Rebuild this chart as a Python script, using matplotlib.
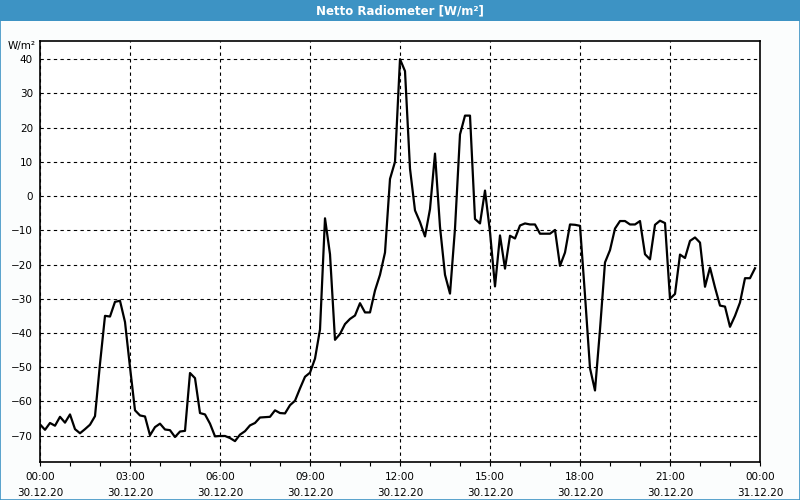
import matplotlib
matplotlib.use("Agg")
import matplotlib.pyplot as plt
import matplotlib.dates as mdates
import pandas as pd
from matplotlib.patches import Rectangle

# net radiation, 10 minute steps from 30.12.20 00:00
start = "2020-12-30 00:00"
step = "10min"
radiation = [
    -66.7, -68.3, -66.3, -67.1, -64.5, -66.2, -63.8, -68.1, -69.3, -68.1,
    -66.8, -64.3, -49.0, -35.0, -35.2, -30.9, -30.6, -36.8, -50.0, -62.6,
    -64.1, -64.4, -69.9, -67.5, -66.5, -68.2, -68.4, -70.4, -68.8, -68.6,
    -51.7, -53.2, -63.4, -63.8, -66.5, -70.2, -70.1, -70.1, -70.7, -71.6,
    -69.7, -68.7, -67.0, -66.3, -64.7, -64.6, -64.5, -62.6, -63.4, -63.5,
    -61.1, -59.8, -56.2, -52.8, -51.6, -47.5, -39.0, -6.5, -17.0, -42.0,
    -40.3, -37.4, -35.9, -34.9, -31.3, -34.0, -34.0, -27.6, -23.0, -16.5,
    5.0, 10.0, 40.0, 36.5, 8.0, -4.2, -7.6, -11.8, -3.8, 12.4,
    -9.0, -23.0, -28.5, -9.5, 18.0, 23.5, 23.5, -6.7, -8.0, 1.6,
    -10.5, -26.4, -11.5, -21.2, -11.6, -12.4, -8.6, -8.0, -8.3, -8.3,
    -11.0, -11.0, -11.0, -9.9, -20.4, -16.5, -8.3, -8.4, -8.7, -29.0,
    -50.3, -56.8, -39.0, -19.4, -15.8, -9.5, -7.3, -7.3, -8.3, -8.3,
    -7.3, -17.0, -18.5, -8.4, -7.2, -7.9, -30.0, -28.6, -17.1, -18.1,
    -13.1, -12.1, -13.6, -26.5, -20.9, -26.7, -32.0, -32.3, -38.2, -35.0,
    -31.1, -24.0, -24.0, -21.1,
]
y_ticks = list(range(-70, 41, 10))
title = "Netto Radiometer [W/m²]"
unit = "W/m²"

times = pd.date_range(start, periods=len(radiation), freq=step)

BLUE = "#3d93c4"

fig = plt.figure(figsize=(8, 5), dpi=100, facecolor="#fbfdfd")

# window title bar and frame
fig.patches.append(Rectangle((0, 1 - 21 / 500), 1, 21 / 500, transform=fig.transFigure,
                             facecolor=BLUE, edgecolor="none", zorder=0))
fig.patches.append(Rectangle((0.0006, 0.001), 0.9988, 0.998, transform=fig.transFigure,
                             facecolor="none", edgecolor=BLUE, linewidth=1.2, zorder=1))
fig.text(0.5, 1 - 10.5 / 500, title, color="white", fontsize=8.5, fontweight="bold",
         ha="center", va="center")

ax = fig.add_axes([40 / 800, 1 - 462 / 500, 720 / 800, 421 / 500])
ax.set_facecolor("white")
ax.plot(times, radiation, color="black", linewidth=1.6, zorder=3)

ax.set_xlim(pd.Timestamp("2020-12-30 00:00"), pd.Timestamp("2020-12-31 00:00"))
ax.set_ylim(-77.7, 45.3)
ax.set_yticks(y_ticks)

ax.xaxis.set_major_locator(mdates.HourLocator(byhour=range(0, 24, 3)))
ax.xaxis.set_minor_locator(mdates.HourLocator())
ax.xaxis.set_major_formatter(mdates.DateFormatter("%H:%M\n%d.%m.%y"))

ax.grid(True, which="major", color="black", linestyle=(0, (3, 3)), linewidth=0.8)
ax.tick_params(axis="x", which="both", direction="out", length=3, width=0.8,
               labelsize=7.5, pad=4)
ax.tick_params(axis="y", length=0, labelsize=7.5, pad=5)
for lbl in ax.get_xticklabels():
    lbl.set_linespacing(1.75)
for sp in ax.spines.values():
    sp.set_linewidth(1.2)

fig.text(22 / 800, 1 - 46 / 500, unit, fontsize=7.5, ha="center", va="center")

fig.savefig("out.png", dpi=100, facecolor=fig.get_facecolor())
